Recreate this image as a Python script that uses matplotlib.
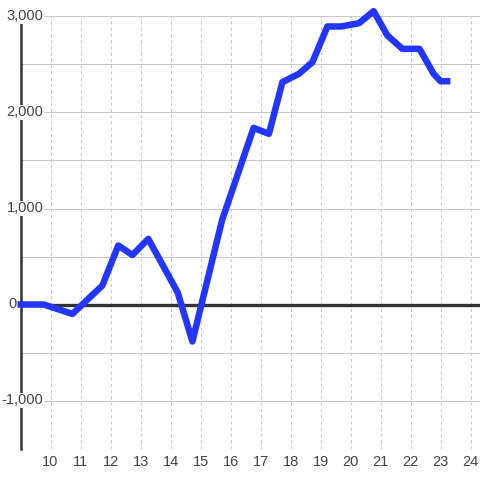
import matplotlib
matplotlib.use("Agg")
import matplotlib.pyplot as plt

# ========== data ==========
days = [8.9, 9.77, 10.73, 11.27, 11.73, 12.26, 12.73, 13.26, 14.24, 14.73, 15.72,
        16.77, 17.28, 17.73, 18.28, 18.73, 19.23, 19.68, 20.28, 20.77, 21.23,
        21.73, 22.3, 22.77, 23.0, 23.33]
values = [0, 0, -98, 62, 198, 615, 515, 684, 125, -385, 880,
          1840, 1778, 2316, 2403, 2524, 2896, 2896, 2930, 3055, 2802,
          2663, 2663, 2403, 2326, 2326]

x_ticks = list(range(10, 25))
y_ticks = [-1000, 0, 1000, 2000, 3000]
y_labels = ["-1,000", "0", "1,000", "2,000", "3,000"]
y_grid = [-1500, -1000, -500, 0, 500, 1000, 1500, 2000, 2500, 3000]

plt.rcParams["font.family"] = ["Liberation Sans", "DejaVu Sans"]

fig = plt.figure(figsize=(4.8, 4.8), dpi=100)
ax = fig.add_axes([20.5 / 480, 31.5 / 480, 460 / 480, 432 / 480])
ax.set_xlim(9.0, 24.333)
ax.set_ylim(-1500, 3000)

# grid, drawn by hand
for v in y_grid:
    ax.axhline(v, color="#c8c8c8", lw=0.75, zorder=1)
for d in x_ticks:
    ax.axvline(d, color="#c8c8c8", lw=0.75, linestyle=(0, (3, 3)), zorder=1)
ax.set_xticks(x_ticks)
ax.minorticks_off()
ax.set_yticks([])
ax.tick_params(axis="x", length=0, pad=5, labelsize=10.5, labelcolor="#444444")

for s in ["top", "right", "bottom"]:
    ax.spines[s].set_visible(False)
ax.spines["left"].set_color("#333333")
ax.spines["left"].set_linewidth(1.8)
ax.spines["left"].set_zorder(2.5)

ax.axhline(0, color="#333333", lw=2.4, zorder=3)

# y labels with white boxes covering spine / grid
yt = ax.get_yaxis_transform()
for v, lab in zip(y_ticks, y_labels):
    off = -4 if v == 0 else 23
    ax.annotate(lab, xy=(0, v), xycoords=yt, xytext=(off * 0.72, 0),
                textcoords="offset points", ha="right", va="center",
                fontsize=10.5, color="#444444", zorder=5,
                bbox=dict(facecolor="white", edgecolor="none", pad=0.6),
                annotation_clip=False)

ax.plot(days, values, color="#2236ff", lw=4.7, solid_capstyle="butt",
        solid_joinstyle="round", zorder=6, clip_on=False)

fig.savefig("out.png", dpi=100)
